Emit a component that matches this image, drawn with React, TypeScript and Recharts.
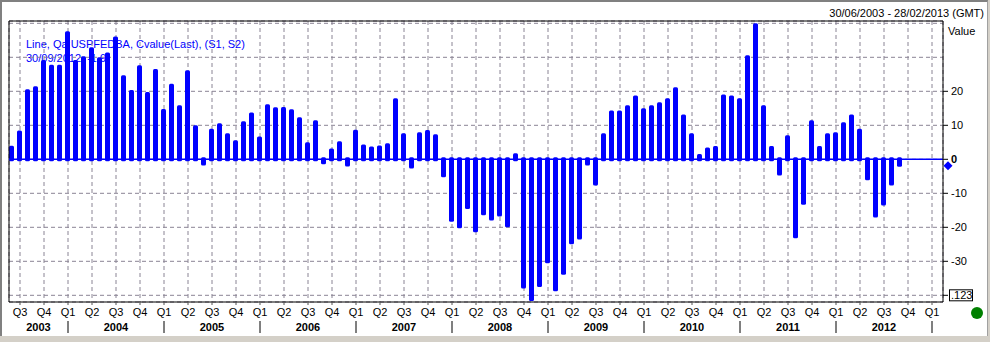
import React from "react";
import {
  ComposedChart,
  Bar,
  XAxis,
  YAxis,
  CartesianGrid,
  ReferenceLine,
  ReferenceDot,
} from "recharts";

// Monthly values, first bar = June 2003, last bar = September 2012
const VALUES: number[] = [
  3.4, 7.9, 20.0, 20.9, 28.6, 27.2, 27.2, 37.1, 28.6, 29.7, 32.4, 29.4,
  30.8, 35.5, 24.1, 19.8, 27.1, 19.2, 26.0, 14.2, 21.6, 15.3, 25.6, 9.4,
  -1.2, 8.4, 10.0, 7.1, 5.0, 10.6, 13.2, 6.1, 15.6, 14.7, 14.8, 14.1,
  11.8, 4.4, 10.9, -0.9, 2.6, 4.7, -1.5, 8.1, 3.8, 3.2, 3.5, 4.1,
  17.4, 7.1, -2.1, 7.4, 8.0, 6.8, -4.7, -17.8, -19.7, -14.0, -20.9, -15.9,
  -17.4, -16.2, -19.4, 1.2, -37.4, -41.1, -37.0, -30.0, -38.2, -33.4, -24.4, -23.0,
  -1.2, -7.1, 7.1, 13.8, 13.8, 15.3, 18.2, 14.4, 15.3, 16.2, 17.4, 20.6,
  12.6, 7.1, 1.0, 2.9, 3.3, 18.5, 18.2, 17.4, 30.0, 39.4, 15.3, 3.3,
  -4.2, 6.5, -22.6, -12.8, 10.9, 3.3, 7.1, 7.4, 10.3, 12.6, 8.4, -5.6,
  -16.5, -13.0, -7.1, -1.6,
];

// Quarter labels, one per quarter tick (Q3 2003 ... Q1 2013)
const QUARTER_LABELS: string[] = [
  "Q3", "Q4",
  "Q1", "Q2", "Q3", "Q4",
  "Q1", "Q2", "Q3", "Q4",
  "Q1", "Q2", "Q3", "Q4",
  "Q1", "Q2", "Q3", "Q4",
  "Q1", "Q2", "Q3", "Q4",
  "Q1", "Q2", "Q3", "Q4",
  "Q1", "Q2", "Q3", "Q4",
  "Q1", "Q2", "Q3", "Q4",
  "Q1", "Q2", "Q3", "Q4",
  "Q1",
];

const YEARS: string[] = [
  "2003", "2004", "2005", "2006", "2007", "2008", "2009", "2010", "2011", "2012",
];

const Y_TICKS: number[] = [-40, -30, -20, -10, 0, 10, 20, 30, 40];
const Y_LABELED: number[] = [-30, -20, -10, 0, 10, 20];
const LAST_VALUE = -1.9;
const BOX_LABEL = ".123";
const LEGEND_LINE1 = "Line, Qa:USPFEDBA, Cvalue(Last), (S1, S2)";
const LEGEND_LINE2 = "30/09/2012, -1.9";
const DATE_RANGE = "30/06/2003 - 28/02/2013 (GMT)";
const AXIS_TITLE = "Value";

const X_DOMAIN: [number, number] = [-0.375, 116.375];
const Y_DOMAIN: [number, number] = [-41.97, 40.68];

const data = VALUES.map((v, i) => ({ i, v }));

// quarter ticks fall on month index 1 (Jul 2003) and every 3 months after
const QUARTER_TICKS = QUARTER_LABELS.map((_, k) => 1 + 3 * k);
// year separators at each Q1 tick
const SEPARATORS = QUARTER_TICKS.filter((_, k) => QUARTER_LABELS[k] === "Q1");
// year centers
const YEAR_CENTERS = YEARS.map((_, k) =>
  k === 0 ? (X_DOMAIN[0] + SEPARATORS[0]) / 2 : SEPARATORS[k - 1] + 6
);
const YEAR_TICKS = [...SEPARATORS, ...YEAR_CENTERS].sort((a, b) => a - b);

const FONT = "'Liberation Sans', Arial, sans-serif";
const BLUE = "#0000ff";

const BarShape = (p: any) => {
  const { x, y, width, height } = p;
  if (x == null || y == null) return null;
  const cx = x + width / 2;
  const top = Math.min(y, y + height) - 2;
  const bot = Math.max(y, y + height) + 2;
  return (
    <rect x={cx - 2.5} y={top} width={5} height={bot - top} rx={1.5} fill={BLUE} />
  );
};

const QuarterTick = (p: any) => {
  const { x, y, payload } = p;
  const k = Math.round((payload.value - 1) / 3);
  return (
    <text
      x={x}
      y={y + 9}
      textAnchor="middle"
      fontFamily={FONT}
      fontSize={11}
      fill="#000"
    >
      {QUARTER_LABELS[k]}
    </text>
  );
};

const YearTick = (p: any) => {
  const { x, y, payload } = p;
  const v = payload.value;
  const si = SEPARATORS.indexOf(v);
  if (si >= 0) {
    return <line x1={x} x2={x} y1={y - 1} y2={y + 11} stroke="#000" strokeWidth={1} />;
  }
  const yi = YEAR_CENTERS.indexOf(v);
  return (
    <text
      x={x}
      y={y + 9}
      textAnchor="middle"
      fontFamily={FONT}
      fontSize={11}
      fontWeight="bold"
      fill="#000"
    >
      {YEARS[yi]}
    </text>
  );
};

const YTick = (p: any) => {
  const { x, y, payload } = p;
  const v = payload.value;
  const ax = x - 8;
  if (v === -40) {
    return (
      <g>
        <line x1={ax} x2={ax + 5} y1={y} y2={y} stroke="#000" />
        <rect x={ax + 6.5} y={y - 5.5} width={23} height={11} fill="#fff" stroke="#000" />
        <text x={ax + 8} y={y} dy="0.36em" fontFamily={FONT} fontSize={11} fill="#000">
          {BOX_LABEL}
        </text>
      </g>
    );
  }
  if (Y_LABELED.indexOf(v) < 0) return <g />;
  return (
    <g>
      <line x1={ax} x2={ax + 5} y1={y} y2={y} stroke="#000" />
      <text
        x={ax + 8}
        y={y}
        dy="0.36em"
        fontFamily={FONT}
        fontSize={11}
        fontWeight={v === 0 ? "bold" : "normal"}
        fill="#000"
      >
        {String(v)}
      </text>
    </g>
  );
};

const Diamond = (p: any) => {
  const { cx, cy } = p;
  const c = cx + 5;
  return (
    <polygon
      points={`${c},${cy - 4.5} ${c + 4.5},${cy} ${c},${cy + 4.5} ${c - 4.5},${cy}`}
      fill={BLUE}
    />
  );
};

export default function App() {
  return (
    <div
      style={{
        position: "absolute",
        left: 0,
        top: 0,
        width: 990,
        height: 342,
        background: "#d4d0c8",
        overflow: "hidden",
      }}
    >
      <div
        style={{
          position: "absolute",
          left: 0,
          top: 0,
          width: 988,
          height: 336,
          background: "#fff",
          borderLeft: "2px solid #808080",
          borderTop: "2px solid #808080",
          borderRight: "1px solid #a0a0a0",
          boxSizing: "border-box",
        }}
      />
      <div
        style={{
          position: "absolute",
          left: 26,
          top: 37,
          fontFamily: FONT,
          fontSize: 11,
          lineHeight: "14px",
          color: BLUE,
          whiteSpace: "nowrap",
        }}
      >
        <div>{LEGEND_LINE1}</div>
        <div>{LEGEND_LINE2}</div>
      </div>
      <div
        style={{
          position: "absolute",
          right: 6,
          top: 6,
          fontFamily: FONT,
          fontSize: 11,
          lineHeight: "14px",
          color: "#000",
          whiteSpace: "nowrap",
        }}
      >
        {DATE_RANGE}
      </div>
      <div
        style={{
          position: "absolute",
          left: 948,
          top: 24,
          fontFamily: FONT,
          fontSize: 11,
          lineHeight: "14px",
          color: "#000",
        }}
      >
        {AXIS_TITLE}
      </div>
      <div
        style={{
          position: "absolute",
          left: 971,
          top: 307,
          width: 12,
          height: 12,
          borderRadius: "50%",
          background: "#008000",
        }}
      />
      <div style={{ position: "absolute", left: 0, top: 0 }}>
        <ComposedChart
          width={990}
          height={342}
          data={data}
          margin={{ top: 21, right: 0, bottom: 0, left: 9 }}
        >
          <CartesianGrid
            stroke="#8a8494"
            strokeDasharray="4 3"
            vertical
            horizontal
          />
          <XAxis
            dataKey="i"
            type="number"
            domain={X_DOMAIN}
            allowDataOverflow
            ticks={QUARTER_TICKS}
            interval={0}
            height={20}
            tickSize={3}
            tickMargin={2}
            axisLine={{ stroke: "#000" }}
            tickLine={{ stroke: "#555" }}
            tick={<QuarterTick />}
          />
          <XAxis
            xAxisId="yr"
            dataKey="i"
            type="number"
            domain={X_DOMAIN}
            allowDataOverflow
            ticks={YEAR_TICKS}
            interval={0}
            height={20}
            tickSize={0}
            tickMargin={0}
            axisLine={false}
            tickLine={false}
            tick={<YearTick />}
          />
          <YAxis
            orientation="right"
            type="number"
            domain={Y_DOMAIN}
            allowDataOverflow
            ticks={Y_TICKS}
            interval={0}
            width={47}
            tickSize={4}
            tickMargin={4}
            axisLine={{ stroke: "#000" }}
            tickLine={false}
            tick={<YTick />}
          />
          <ReferenceLine x={X_DOMAIN[0]} stroke="#000" ifOverflow="visible" />
          <ReferenceLine y={Y_DOMAIN[1]} stroke="#000" ifOverflow="visible" />
          <ReferenceLine y={0} stroke={BLUE} strokeWidth={1.5} />
          <Bar
            dataKey="v"
            barSize={5}
            isAnimationActive={false}
            shape={<BarShape />}
          />
          <ReferenceDot
            x={X_DOMAIN[1]}
            y={LAST_VALUE}
            ifOverflow="visible"
            shape={<Diamond />}
          />
        </ComposedChart>
      </div>
    </div>
  );
}
